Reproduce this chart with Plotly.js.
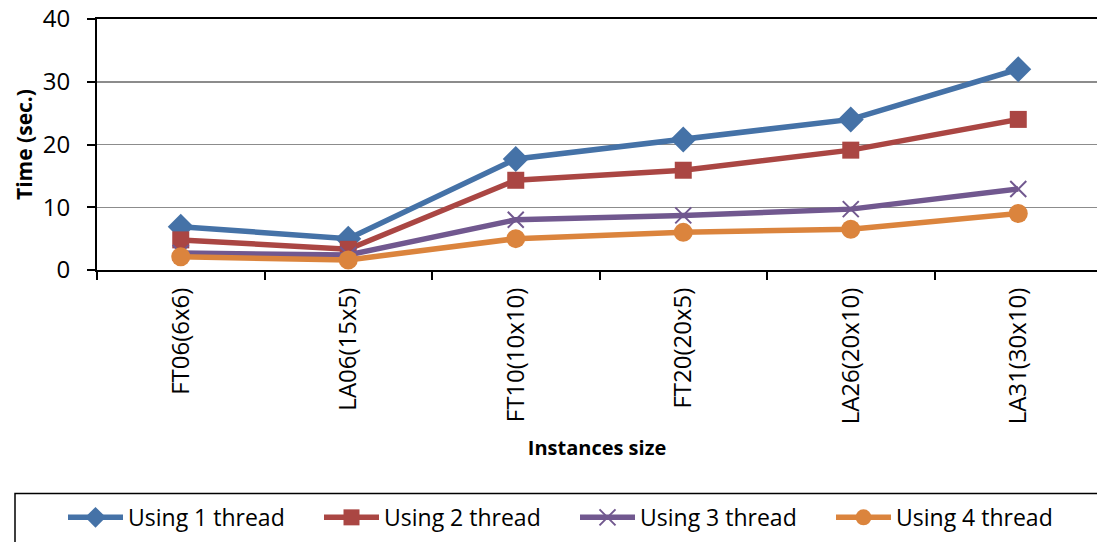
<!DOCTYPE html>
<html>
<head>
<meta charset="utf-8">
<script src="https://cdn.plot.ly/plotly-3.0.1.min.js"></script>
<style>html,body{margin:0;padding:0;background:#fff;}#chart{width:1097px;height:542px;}</style>
</head>
<body>
<div id="chart"></div>
<script>
const categories = ["FT06(6x6)", "LA06(15x5)", "FT10(10x10)", "FT20(20x5)", "LA26(20x10)", "LA31(30x10)"];
const thread1 = [6.9, 5.0, 17.7, 20.8, 24.0, 32.0];
const thread2 = [4.8, 3.3, 14.3, 15.9, 19.1, 24.0];
const thread3 = [2.7, 2.4, 8.0, 8.7, 9.7, 12.9];
const thread4 = [2.1, 1.6, 5.0, 6.0, 6.5, 9.0];
const seriesNames = ["Using 1 thread", "Using 2 thread", "Using 3 thread", "Using 4 thread"];

const FONT = "'Open Sans', 'Liberation Sans', sans-serif";
const styles = [
  {color: "#4572A7", symbol: "diamond", size: 20},
  {color: "#AA4643", symbol: "square", size: 17},
  {color: "#71588F", symbol: "x-thin-open", size: 16},
  {color: "#DB843D", symbol: "circle", size: 19}
];
const data = [thread1, thread2, thread3, thread4].map((vals, i) => ({
  type: "scatter",
  mode: "lines+markers",
  name: seriesNames[i],
  x: categories,
  y: vals,
  line: {color: styles[i].color, width: 5.5},
  marker: {color: styles[i].color, symbol: styles[i].symbol, size: styles[i].size,
           line: {color: styles[i].color, width: styles[i].symbol === "x-thin-open" ? 2 : 0}}
}));

const layout = {
  width: 1097, height: 542,
  margin: {l: 97, r: 0, t: 19, b: 272},
  paper_bgcolor: "#fff", plot_bgcolor: "#fff",
  font: {family: FONT, size: 20, color: "#000"},
  showlegend: true,
  legend: {
    orientation: "h",
    x: -0.034, xanchor: "left",
    y: -0.9, yanchor: "top",
    bgcolor: "rgba(0,0,0,0)",
    borderwidth: 0,
    font: {family: FONT, size: 23, color: "#000"},
    itemwidth: 55,
    entrywidth: 186, entrywidthmode: "pixels",
    traceorder: "normal",
    itemsizing: "trace"
  },
  shapes: [{
    type: "rect", xref: "paper", yref: "paper",
    x0: -0.082, x1: 1.01, y0: -0.89, y1: -1.2,
    line: {color: "#000", width: 1.5}, fillcolor: "rgba(0,0,0,0)", layer: "above"
  }],
  xaxis: {
    type: "category",
    range: [-0.5, 5.47],
    showline: true, linecolor: "#000", linewidth: 2,
    mirror: true,
    showgrid: false,
    ticks: "outside", tickson: "boundaries", ticklen: 8, tickcolor: "#000", tickwidth: 2,
    tickangle: -90,
    ticklabelstandoff: 6,
    tickfont: {family: FONT, size: 24, color: "#000"},
    title: {text: "<b>Instances size</b>", font: {family: FONT, size: 20, color: "#000"}, standoff: 18}
  },
  yaxis: {
    range: [0, 40], dtick: 10,
    showline: true, linecolor: "#000", linewidth: 2,
    showgrid: true, gridcolor: "#8c8c8c", gridwidth: 1.5,
    zeroline: false,
    ticks: "outside", ticklen: 8, tickcolor: "#000", tickwidth: 2,
    ticklabelstandoff: 12,
    tickfont: {family: FONT, size: 24, color: "#000"},
    title: {text: "<b>Time (sec.)</b>", font: {family: FONT, size: 21, color: "#000"}, standoff: 4}
  }
};

Plotly.newPlot("chart", data, layout, {displayModeBar: false, staticPlot: true});
</script>
</body>
</html>
